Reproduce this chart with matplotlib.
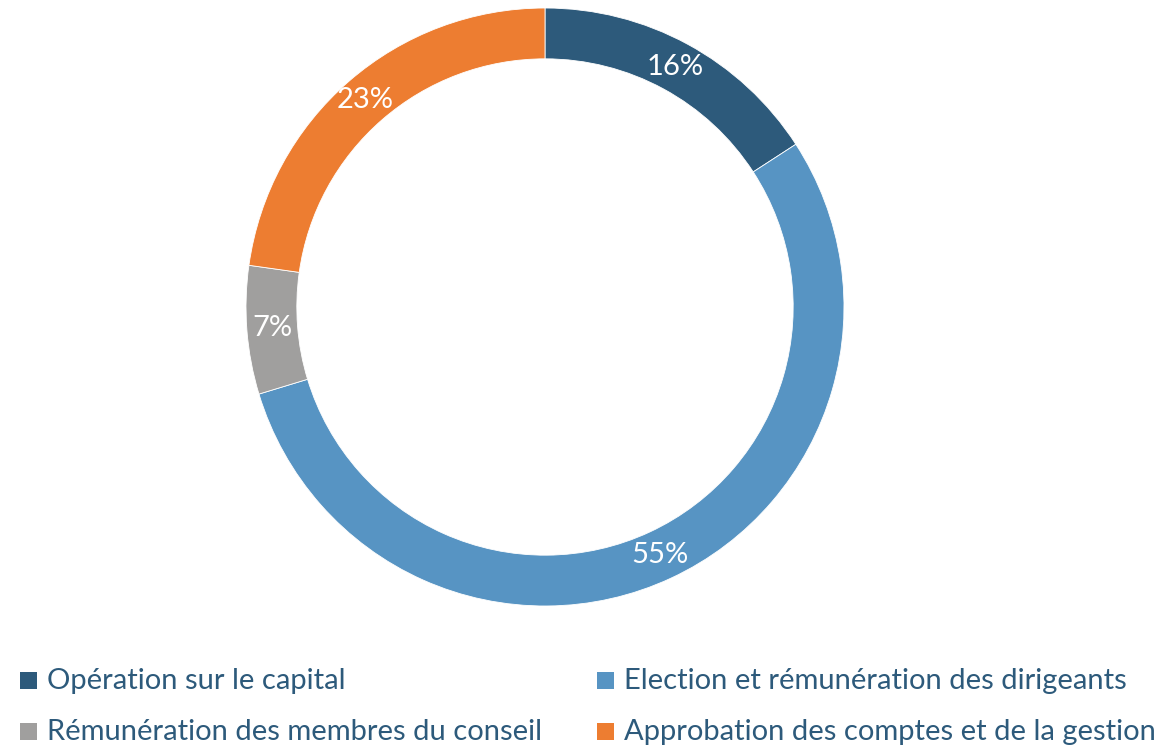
import numpy as np
import matplotlib.pyplot as plt
from matplotlib.patches import Rectangle

plt.rcParams['font.family'] = ['Lato', 'DejaVu Sans']

# data
categories = ['Opération sur le capital', 'Election et rémunération des dirigeants',
              'Rémunération des membres du conseil', 'Approbation des comptes et de la gestion']
values = [16, 55, 7, 23]
labels = ['16%', '55%', '7%', '23%']
colors = ['#2D5A7B', '#5794C3', '#A09F9E', '#ED7D31']
text_color = '#2D5A7B'

W, H = 1167, 752
fig = plt.figure(figsize=(W / 100, H / 100), dpi=100)

# donut axes, centred around (545, 307) px
ax = fig.add_axes([(545 - 299) / W, (H - 307 - 299) / H, 598 / W, 598 / H])
wedges, _ = ax.pie(values, colors=colors, startangle=90, counterclock=False,
                   radius=1, wedgeprops=dict(width=0.17, edgecolor='white', linewidth=0.6))
ax.set_xlim(-1, 1)
ax.set_ylim(-1, 1)
ax.set_aspect('equal')
ax.axis('off')

# percentage labels in the middle of the ring
for w, lab in zip(wedges, labels):
    mid = np.deg2rad((w.theta1 + w.theta2) / 2)
    ax.text(0.915 * np.cos(mid), 0.915 * np.sin(mid), lab, color='white',
            fontsize=21, ha='center', va='center')

# legend: 2 columns x 2 rows, drawn by hand to match the original spacing
col_x = [20, 597]       # left edge of square markers (px)
row_base = [689, 740]   # text baselines (px)
sq = 17
for i, (cat, col) in enumerate(zip(categories, colors)):
    r, c = divmod(i, 2)
    x0, yb = col_x[c], row_base[r]
    fig.add_artist(Rectangle((x0 / W, 1 - yb / H), sq / W, sq / H,
                             transform=fig.transFigure, facecolor=col, edgecolor='none'))
    fig.text((x0 + sq + 10) / W, 1 - yb / H, cat, color=text_color,
             fontsize=21, ha='left', va='baseline')

fig.savefig('out.png', dpi=100)
